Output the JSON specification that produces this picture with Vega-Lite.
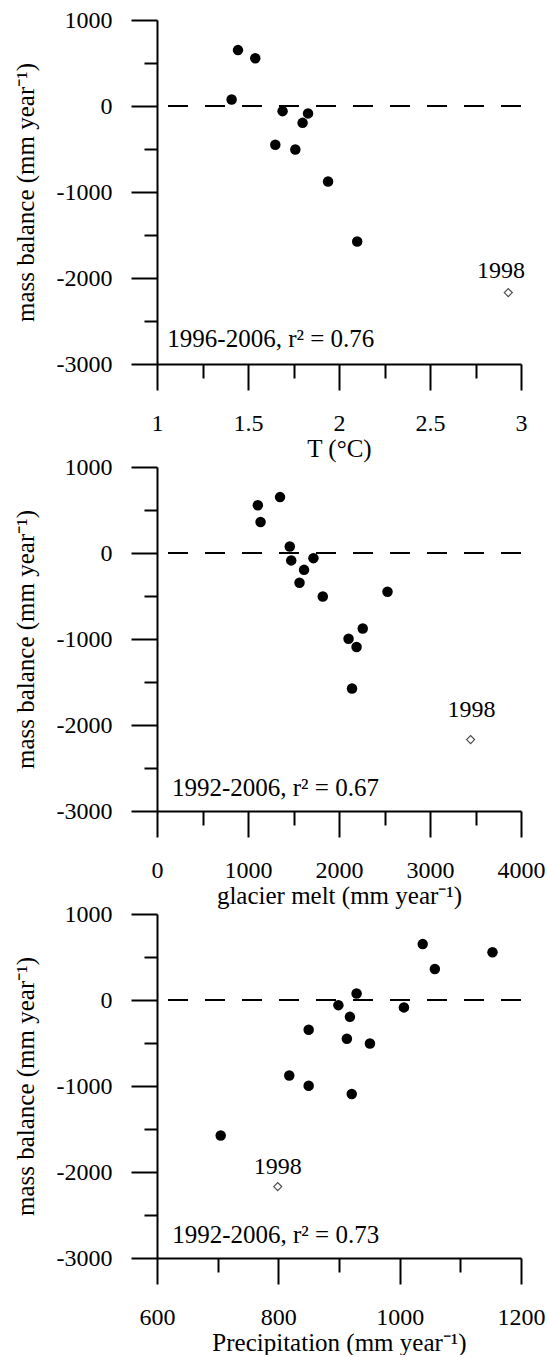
{
  "$schema": "https://vega.github.io/schema/vega-lite/v6.json",
  "padding": {"left": 13, "top": 8, "right": 0, "bottom": 0},
  "background": "white",
  "config": {
    "view": {"stroke": null},
    "font": "Liberation Serif",
    "axis": {
      "grid": false,
      "domainColor": "#000", "domainWidth": 2,
      "tickColor": "#000", "tickWidth": 2,
      "labelFont": "Liberation Serif", "labelFontSize": 24, "labelColor": "#000",
      "labelFlush": false, "labelOverlap": false, "labelBound": false,
      "titleFont": "Liberation Serif", "titleFontSize": 25, "titleFontWeight": "normal", "titleColor": "#000"
    },
    "text": {"font": "Liberation Serif", "fontSize": 25, "color": "#000"}
  },
  "datasets": {
    "temp": [
      {"x": 1.41, "mb": 75, "group": "main"},
      {"x": 1.445, "mb": 650, "group": "main"},
      {"x": 1.54, "mb": 556, "group": "main"},
      {"x": 1.65, "mb": -450, "group": "main"},
      {"x": 1.69, "mb": -60, "group": "main"},
      {"x": 1.76, "mb": -505, "group": "main"},
      {"x": 1.80, "mb": -196, "group": "main"},
      {"x": 1.83, "mb": -86, "group": "main"},
      {"x": 1.94, "mb": -878, "group": "main"},
      {"x": 2.10, "mb": -1575, "group": "main"},
      {"x": 2.93, "mb": -2170, "group": "1998"}
    ],
    "melt": [
      {"x": 1108, "mb": 556, "group": "main"},
      {"x": 1138, "mb": 360, "group": "main"},
      {"x": 1352, "mb": 650, "group": "main"},
      {"x": 1459, "mb": 75, "group": "main"},
      {"x": 1475, "mb": -86, "group": "main"},
      {"x": 1719, "mb": -60, "group": "main"},
      {"x": 1616, "mb": -196, "group": "main"},
      {"x": 1566, "mb": -345, "group": "main"},
      {"x": 1822, "mb": -505, "group": "main"},
      {"x": 2533, "mb": -450, "group": "main"},
      {"x": 2105, "mb": -997, "group": "main"},
      {"x": 2193, "mb": -1093, "group": "main"},
      {"x": 2261, "mb": -878, "group": "main"},
      {"x": 2143, "mb": -1575, "group": "main"},
      {"x": 3446, "mb": -2170, "group": "1998"}
    ],
    "precip": [
      {"x": 705, "mb": -1575, "group": "main"},
      {"x": 818, "mb": -878, "group": "main"},
      {"x": 850, "mb": -997, "group": "main"},
      {"x": 850, "mb": -345, "group": "main"},
      {"x": 899, "mb": -60, "group": "main"},
      {"x": 918, "mb": -196, "group": "main"},
      {"x": 913, "mb": -450, "group": "main"},
      {"x": 921, "mb": -1093, "group": "main"},
      {"x": 929, "mb": 75, "group": "main"},
      {"x": 951, "mb": -505, "group": "main"},
      {"x": 1007, "mb": -86, "group": "main"},
      {"x": 1038, "mb": 650, "group": "main"},
      {"x": 1058, "mb": 360, "group": "main"},
      {"x": 1153, "mb": 556, "group": "main"},
      {"x": 799, "mb": -2170, "group": "1998"}
    ],
    "notes": [
      {"panel": "T", "kind": "stat", "x": 1.057, "mb": -2710, "text": "1996-2006, r² = 0.76"},
      {"panel": "T", "kind": "year", "x": 2.89, "mb": -1918, "text": "1998"},
      {"panel": "M", "kind": "stat", "x": 164, "mb": -2737, "text": "1992-2006, r² = 0.67"},
      {"panel": "M", "kind": "year", "x": 3457, "mb": -1821, "text": "1998"},
      {"panel": "P", "kind": "stat", "x": 625, "mb": -2736, "text": "1992-2006, r² = 0.73"},
      {"panel": "P", "kind": "year", "x": 799, "mb": -1946, "text": "1998"}
    ]
  },
  "bounds": "flush",
  "spacing": 103,
  "vconcat": [
    {
      "width": 364, "height": 344,
      "layer": [
        {
          "data": {"values": [{"zero": 0}]},
          "mark": {"type": "rule", "strokeDash": [20, 17], "strokeWidth": 2, "color": "#000"},
          "encoding": {"y": {"field": "zero", "type": "quantitative", "scale": {"domain": [-3000, 1000], "nice": false}}}
        },
        {
          "data": {"name": "temp"},
          "transform": [{"filter": "datum.group == 'main'"}],
          "mark": {"type": "point", "shape": "circle", "filled": true, "size": 110, "color": "#000", "opacity": 1},
          "encoding": {
            "x": {"field": "x", "type": "quantitative", "scale": {"domain": [1, 3], "nice": false, "zero": false},
              "axis": {"values": [1, 1.25, 1.5, 1.75, 2, 2.25, 2.5, 2.75, 3],
                "labelExpr": "round(datum.value*2) == datum.value*2 ? '' + datum.value : ''",
                "tickSize": {"condition": {"test": "round(datum.value*2) != datum.value*2", "value": 14}, "value": 26},
                "labelFont": "Liberation Serif", "titleFont": "Liberation Serif",
                "labelPadding": 21, "title": "T (°C)", "titlePadding": 1}},
            "y": {"field": "mb", "type": "quantitative", "scale": {"domain": [-3000, 1000], "nice": false},
              "axis": {"values": [-3000, -2500, -2000, -1500, -1000, -500, 0, 500, 1000],
                "labelExpr": "datum.value % 1000 == 0 ? '' + datum.value : ''",
                "tickSize": {"condition": {"test": "datum.value % 1000 != 0", "value": 13}, "value": 26},
                "labelFont": "Liberation Serif", "titleFont": "Liberation Serif",
                "labelPadding": 19, "title": "mass balance (mm year⁻¹)", "titlePadding": 18}}
          }
        },
        {
          "data": {"name": "temp"},
          "transform": [{"filter": "datum.group == '1998'"}],
          "mark": {"type": "point", "shape": "diamond", "filled": false, "size": 64, "color": "#000", "strokeWidth": 1.2},
          "encoding": {
            "x": {"field": "x", "type": "quantitative", "scale": {"domain": [1, 3], "nice": false, "zero": false}},
            "y": {"field": "mb", "type": "quantitative"}
          }
        },
        {
          "data": {"name": "notes"},
          "transform": [{"filter": "datum.panel == 'T' && datum.kind == 'stat'"}],
          "mark": {"type": "text", "align": "left", "baseline": "middle"},
          "encoding": {
            "x": {"field": "x", "type": "quantitative"},
            "y": {"field": "mb", "type": "quantitative"},
            "text": {"field": "text"}
          }
        },
        {
          "data": {"name": "notes"},
          "transform": [{"filter": "datum.panel == 'T' && datum.kind == 'year'"}],
          "mark": {"type": "text", "align": "center", "baseline": "middle", "fontSize": 24},
          "encoding": {
            "x": {"field": "x", "type": "quantitative"},
            "y": {"field": "mb", "type": "quantitative"},
            "text": {"field": "text"}
          }
        }
      ]
    },
    {
      "width": 364, "height": 344,
      "layer": [
        {
          "data": {"values": [{"zero": 0}]},
          "mark": {"type": "rule", "strokeDash": [20, 17], "strokeWidth": 2, "color": "#000"},
          "encoding": {"y": {"field": "zero", "type": "quantitative", "scale": {"domain": [-3000, 1000], "nice": false}}}
        },
        {
          "data": {"name": "melt"},
          "transform": [{"filter": "datum.group == 'main'"}],
          "mark": {"type": "point", "shape": "circle", "filled": true, "size": 110, "color": "#000", "opacity": 1},
          "encoding": {
            "x": {"field": "x", "type": "quantitative", "scale": {"domain": [0, 4000], "nice": false},
              "axis": {"values": [0, 500, 1000, 1500, 2000, 2500, 3000, 3500, 4000],
                "labelExpr": "datum.value % 1000 == 0 ? '' + datum.value : ''",
                "tickSize": {"condition": {"test": "datum.value % 1000 != 0", "value": 14}, "value": 26},
                "labelFont": "Liberation Serif", "titleFont": "Liberation Serif",
                "labelPadding": 21, "title": "glacier melt (mm year⁻¹)", "titlePadding": 1}},
            "y": {"field": "mb", "type": "quantitative", "scale": {"domain": [-3000, 1000], "nice": false},
              "axis": {"values": [-3000, -2500, -2000, -1500, -1000, -500, 0, 500, 1000],
                "labelExpr": "datum.value % 1000 == 0 ? '' + datum.value : ''",
                "tickSize": {"condition": {"test": "datum.value % 1000 != 0", "value": 13}, "value": 26},
                "labelFont": "Liberation Serif", "titleFont": "Liberation Serif",
                "labelPadding": 19, "title": "mass balance (mm year⁻¹)", "titlePadding": 18}}
          }
        },
        {
          "data": {"name": "melt"},
          "transform": [{"filter": "datum.group == '1998'"}],
          "mark": {"type": "point", "shape": "diamond", "filled": false, "size": 64, "color": "#000", "strokeWidth": 1.2},
          "encoding": {
            "x": {"field": "x", "type": "quantitative", "scale": {"domain": [0, 4000], "nice": false}},
            "y": {"field": "mb", "type": "quantitative"}
          }
        },
        {
          "data": {"name": "notes"},
          "transform": [{"filter": "datum.panel == 'M' && datum.kind == 'stat'"}],
          "mark": {"type": "text", "align": "left", "baseline": "middle"},
          "encoding": {
            "x": {"field": "x", "type": "quantitative"},
            "y": {"field": "mb", "type": "quantitative"},
            "text": {"field": "text"}
          }
        },
        {
          "data": {"name": "notes"},
          "transform": [{"filter": "datum.panel == 'M' && datum.kind == 'year'"}],
          "mark": {"type": "text", "align": "center", "baseline": "middle", "fontSize": 24},
          "encoding": {
            "x": {"field": "x", "type": "quantitative"},
            "y": {"field": "mb", "type": "quantitative"},
            "text": {"field": "text"}
          }
        }
      ]
    },
    {
      "width": 364, "height": 344,
      "layer": [
        {
          "data": {"values": [{"zero": 0}]},
          "mark": {"type": "rule", "strokeDash": [20, 17], "strokeWidth": 2, "color": "#000"},
          "encoding": {"y": {"field": "zero", "type": "quantitative", "scale": {"domain": [-3000, 1000], "nice": false}}}
        },
        {
          "data": {"name": "precip"},
          "transform": [{"filter": "datum.group == 'main'"}],
          "mark": {"type": "point", "shape": "circle", "filled": true, "size": 110, "color": "#000", "opacity": 1},
          "encoding": {
            "x": {"field": "x", "type": "quantitative", "scale": {"domain": [600, 1200], "nice": false, "zero": false},
              "axis": {"values": [600, 700, 800, 900, 1000, 1100, 1200],
                "labelExpr": "datum.value % 200 == 0 ? '' + datum.value : ''",
                "tickSize": {"condition": {"test": "datum.value % 200 != 0", "value": 14}, "value": 26},
                "labelFont": "Liberation Serif", "titleFont": "Liberation Serif",
                "labelPadding": 21, "title": "Precipitation (mm year⁻¹)", "titlePadding": 1}},
            "y": {"field": "mb", "type": "quantitative", "scale": {"domain": [-3000, 1000], "nice": false},
              "axis": {"values": [-3000, -2500, -2000, -1500, -1000, -500, 0, 500, 1000],
                "labelExpr": "datum.value % 1000 == 0 ? '' + datum.value : ''",
                "tickSize": {"condition": {"test": "datum.value % 1000 != 0", "value": 13}, "value": 26},
                "labelFont": "Liberation Serif", "titleFont": "Liberation Serif",
                "labelPadding": 19, "title": "mass balance (mm year⁻¹)", "titlePadding": 18}}
          }
        },
        {
          "data": {"name": "precip"},
          "transform": [{"filter": "datum.group == '1998'"}],
          "mark": {"type": "point", "shape": "diamond", "filled": false, "size": 64, "color": "#000", "strokeWidth": 1.2},
          "encoding": {
            "x": {"field": "x", "type": "quantitative", "scale": {"domain": [600, 1200], "nice": false, "zero": false}},
            "y": {"field": "mb", "type": "quantitative"}
          }
        },
        {
          "data": {"name": "notes"},
          "transform": [{"filter": "datum.panel == 'P' && datum.kind == 'stat'"}],
          "mark": {"type": "text", "align": "left", "baseline": "middle"},
          "encoding": {
            "x": {"field": "x", "type": "quantitative"},
            "y": {"field": "mb", "type": "quantitative"},
            "text": {"field": "text"}
          }
        },
        {
          "data": {"name": "notes"},
          "transform": [{"filter": "datum.panel == 'P' && datum.kind == 'year'"}],
          "mark": {"type": "text", "align": "center", "baseline": "middle", "fontSize": 24},
          "encoding": {
            "x": {"field": "x", "type": "quantitative"},
            "y": {"field": "mb", "type": "quantitative"},
            "text": {"field": "text"}
          }
        }
      ]
    }
  ]
}
